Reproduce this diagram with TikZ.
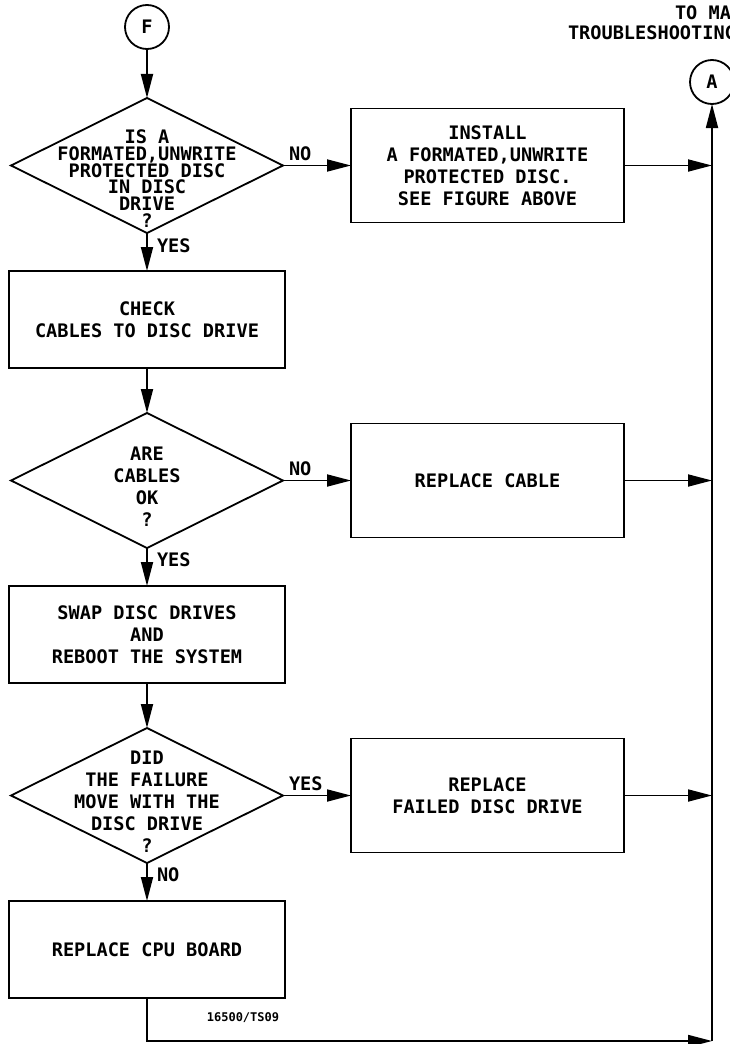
\documentclass[tikz,border=0pt]{standalone}
\usepackage{fontspec}
\setmonofont{DejaVu Sans Mono}
\usetikzlibrary{arrows.meta,positioning,shapes.geometric}

\begin{document}
\begin{tikzpicture}[
  x=1pt, y=-1pt,
  node distance=38pt and 68pt,
  >={Triangle[length=24pt,width=12pt]},
  font=\ttfamily\bfseries\fontsize{18.6}{22}\selectfont,
  every node/.style={inner sep=0pt, outer sep=0pt},
  conn/.style={draw, circle, minimum size=44pt, line width=1.8pt},
  box/.style={draw, align=center, minimum width=276pt, minimum height=97pt,
              line width=1.8pt},
  side/.style={box, minimum width=273pt, minimum height=114pt},
  ask/.style={draw, diamond, aspect=2, minimum width=272pt, minimum height=135pt,
              line width=1.8pt},
  flow/.style={->, line width=1.8pt}
]
  \useasboundingbox (0,0) rectangle (730,1044);

  \node[conn] (F) at (147,27) {F};
  \node[ask, below=49pt of F,
        label={[align=center, yshift=-13pt, font=\ttfamily\bfseries\fontsize{18.6}{16.7}\selectfont]center:{IS A\\FORMATED,UNWRITE\\PROTECTED DISC\\IN DISC\\DRIVE\\?}}] (disc) {};
  \node[box, below=of disc] (cables) {CHECK\\CABLES TO DISC DRIVE};
  \node[ask, below=45pt of cables,
        label={[align=center, yshift=-6pt]center:{ARE\\CABLES\\OK\\?}}] (cableok) {};
  \node[box, below=of cableok] (swap) {SWAP DISC DRIVES\\AND\\REBOOT THE SYSTEM};
  \node[ask, below=45pt of swap,
        label={[align=center, yshift=-6pt]center:{DID\\THE FAILURE\\MOVE WITH THE\\DISC DRIVE\\?}}] (moved) {};
  \node[box, below=of moved] (cpu) {REPLACE CPU BOARD};

  \node[side, right=of disc] (install) {INSTALL\\A FORMATED,UNWRITE\\PROTECTED DISC.\\SEE FIGURE ABOVE};
  \node[side, right=of cableok] (cable) {REPLACE CABLE};
  \node[side, right=of moved] (drive) {REPLACE\\FAILED DISC DRIVE};

  \node[conn] (A) at (712,82) {A};
  \node[anchor=west] (tomain) at (675,13) {TO MA};
  \node[anchor=west] (shooting) at (568,33) {TROUBLESHOOTING};
  \node[font=\ttfamily\bfseries\fontsize{12}{12}\selectfont] (figref) at (243,1018) {16500/TS09};

  % answers
  \node[anchor=south west] (no1) at ([shift={(6,-5)}]disc.east) {NO};
  \node[anchor=west] (yes1) at ([shift={(10,13)}]disc.south) {YES};
  \node[anchor=south west] (no2) at ([shift={(6,-5)}]cableok.east) {NO};
  \node[anchor=west] (yes2) at ([shift={(10,12)}]cableok.south) {YES};
  \node[anchor=south west] (yes3) at ([shift={(6,-5)}]moved.east) {YES};
  \node[anchor=west] (no3) at ([shift={(10,12)}]moved.south) {NO};

  \draw[flow] (F) -- (disc);
  \draw[flow] (disc) -- (cables);
  \draw[flow] (disc) -- (install);
  \draw[flow] (cables) -- (cableok);
  \draw[flow] (cableok) -- (swap);
  \draw[flow] (cableok) -- (cable);
  \draw[flow] (swap) -- (moved);
  \draw[flow] (moved) -- (cpu);
  \draw[flow] (moved) -- (drive);
  \draw[flow] (install) -- (install -| A);
  \draw[flow] (cable) -- (cable -| A);
  \draw[flow] (drive) -- (drive -| A);
  \coordinate[below=43pt of cpu] (low);
  \draw[flow] (cpu) |- (low -| A);
  \draw[flow] (low -| A) -- (A);
\end{tikzpicture}
\end{document}
